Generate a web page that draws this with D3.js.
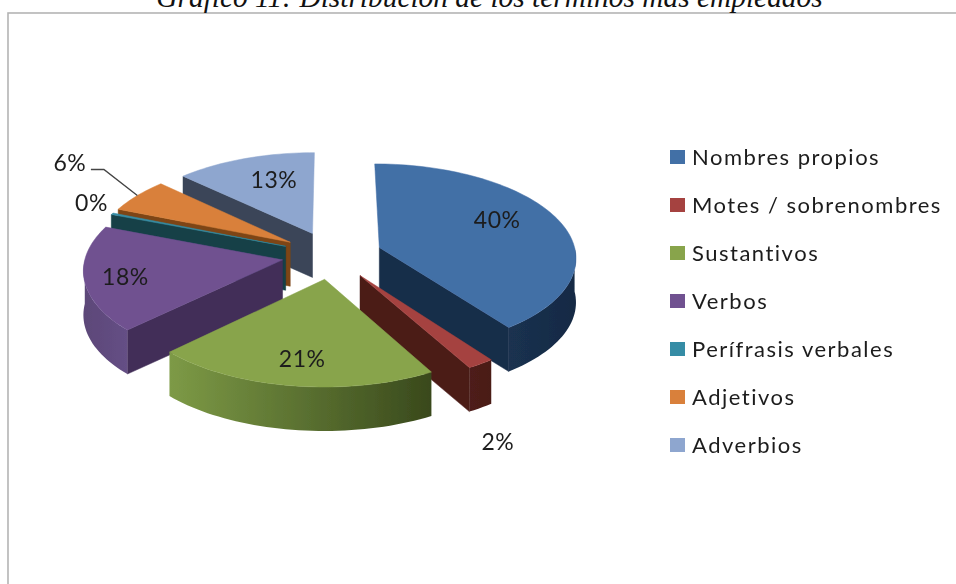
<!DOCTYPE html>
<meta charset="utf-8">
<style>
  html, body { margin: 0; padding: 0; background: #fff; overflow: hidden; }
  svg { display: block; }
</style>
<body>
<script src="https://d3js.org/d3.v7.min.js"></script>
<script>

// data
const categories = ["Nombres propios", "Motes / sobrenombres", "Sustantivos", "Verbos",
                    "Perífrasis verbales", "Adjetivos", "Adverbios"];
const shares = [39.8, 2, 21, 18, 0.3, 5.9, 13];

// slice colours
const topColors  = ["#426fa6", "#a5423f", "#88a44c", "#6f5190", "#358ca5", "#d9803a", "#8ea6cf"];
const sideLeft   = ["#1a3150", "#4e1c1a", "#7d9a46", "#5c4778", "#124047", "#7d4413", "#3a4559"];
const sideRight  = ["#172a44", "#4a1a18", "#39491c", "#654f85", "#124047", "#7d4413", "#3a4559"];
const sideFlat   = ["#182d49", "#4b1b19", "#56692f", "#422e58", "#123f46", "#7d4413", "#3a4559"];

// label placement: nudge from the spot on the slice, and outside labels sit further out
const labelOut   = [false, true, false, false, true, true, false];
const labelNudge = [[6, -10], [-29, 44], [-3, 16], [-35, 5], [37, 0], [-18, -17], [5, -5]];

const width = 956, height = 584;
const cx = 332, cy = 255;       // pie centre on the page
const radius = 192, explode = 49, depth = 44;
const squash = 0.49, stretch = 1.025, perspective = 0.0005;

const svg = d3.select("body").append("svg")
    .attr("width", width)
    .attr("height", height)
    .attr("viewBox", [0, 0, width, height]);

const defs = svg.append("defs");
defs.append("filter").attr("id", "soft")
    .attr("x", "-5%").attr("y", "-5%").attr("width", "110%").attr("height", "110%")
    .append("feGaussianBlur").attr("stdDeviation", 0.45);

// frame runs off the right and bottom of the picture
svg.append("rect")
    .attr("x", 8).attr("y", 13)
    .attr("width", width + 20).attr("height", height + 20)
    .attr("fill", "#fff").attr("stroke", "#b4b4b4").attr("stroke-width", 1.6);

svg.append("text")
    .attr("x", 489.5).attr("y", 6.5)
    .attr("text-anchor", "middle")
    .style("font-family", "'Liberation Serif', serif")
    .style("font-style", "italic")
    .style("font-size", "29.4px")
    .attr("fill", "#111")
    .text("Gráfico 11: Distribución de los términos más empleados");

// plane coordinates -> page
function project(X, Y) {
  const f = 1 + perspective * Y;
  return [cx + f * X * stretch, cy + f * squash * Y];
}
const dir = a => [Math.sin(a), -Math.cos(a)];

const pie = d3.pie().sort(null).value(d => d);
const arcs = pie(shares);
const line = d3.line();
const chart = svg.append("g").attr("filter", "url(#soft)");

// back to front
const order = [6, 5, 4, 3, 0, 1, 2];

order.forEach(i => {
  const a = arcs[i];
  const mid = (a.startAngle + a.endAngle) / 2;
  const [ox, oy] = dir(mid).map(v => v * explode);
  const rim = t => {
    const [dx, dy] = dir(t);
    return project(ox + dx * radius, oy + dy * radius);
  };
  const apex = project(ox, oy);
  const drop = p => [p[0], p[1] + depth];
  const sweep = (t0, t1) => {
    const n = Math.max(2, Math.ceil((t1 - t0) / 0.03));
    return d3.range(n + 1).map(k => rim(t0 + (t1 - t0) * k / n));
  };

  const g = chart.append("g");

  // radial walls, only the ones facing the viewer
  if (Math.sin(a.startAngle) < 0) {
    const e = rim(a.startAngle);
    g.append("path").attr("d", line([apex, e, drop(e), drop(apex)]) + "Z")
        .attr("fill", sideFlat[i]).attr("stroke", sideFlat[i]).attr("stroke-width", 0.5);
  }
  if (Math.sin(a.endAngle) > 0) {
    const e = rim(a.endAngle);
    g.append("path").attr("d", line([apex, e, drop(e), drop(apex)]) + "Z")
        .attr("fill", sideFlat[i]).attr("stroke", sideFlat[i]).attr("stroke-width", 0.5);
  }

  // outer wall on the near half of the pie
  const t0 = Math.max(a.startAngle, Math.PI / 2), t1 = Math.min(a.endAngle, Math.PI * 1.5);
  if (t1 > t0) {
    const grad = defs.append("linearGradient").attr("id", "wall" + i);
    grad.append("stop").attr("offset", 0).attr("stop-color", sideLeft[i]);
    grad.append("stop").attr("offset", 1).attr("stop-color", sideRight[i]);
    const edge = sweep(t0, t1);
    g.append("path").attr("d", line(edge.concat(edge.map(drop).reverse())) + "Z")
        .attr("fill", "url(#wall" + i + ")");
  }

  // top face
  g.append("path").attr("d", line([apex].concat(sweep(a.startAngle, a.endAngle))) + "Z")
      .attr("fill", topColors[i]).attr("stroke", topColors[i]).attr("stroke-width", 0.5);
});

// percentage labels
const labels = svg.append("g").attr("filter", "url(#soft)")
    .style("font-family", "Lato, 'Open Sans', sans-serif")
    .style("font-size", "23px")
    .style("letter-spacing", "0.5px")
    .attr("fill", "#1c1c1c");

arcs.forEach((a, i) => {
  const mid = (a.startAngle + a.endAngle) / 2;
  const r = labelOut[i] ? explode + radius * 1.35 : explode + radius * 0.62;
  const [dx, dy] = dir(mid);
  const p = project(dx * r, dy * r);
  const x = p[0] + labelNudge[i][0], y = p[1] + labelNudge[i][1];
  labels.append("text")
      .attr("x", x).attr("y", y).attr("dy", "0.35em")
      .attr("text-anchor", "middle")
      .text(Math.round(shares[i]) + "%");

  // leader for the 6% slice
  if (categories[i] === "Adjetivos") {
    const out = project(dir(mid)[0] * (explode + radius), dir(mid)[1] * (explode + radius));
    labels.append("path")
        .attr("d", line([[x + 21, y + 6], [x + 34, y + 6], out]))
        .attr("fill", "none").attr("stroke", "#444").attr("stroke-width", 1.4);
  }
});

// legend
const legendY = d3.scalePoint().domain(categories).range([157, 445]);
const legend = svg.append("g").attr("filter", "url(#soft)");
categories.forEach((c, i) => {
  legend.append("rect")
      .attr("x", 670).attr("y", legendY(c) - 7)
      .attr("width", 15).attr("height", 14)
      .attr("fill", topColors[i]);
  legend.append("text")
      .attr("x", 692).attr("y", legendY(c)).attr("dy", "0.35em")
      .style("font-family", "Lato, 'Open Sans', sans-serif")
      .style("font-size", "22px")
      .style("letter-spacing", "1.5px")
      .attr("fill", "#1c1c1c")
      .text(c);
});

</script>
</body>
